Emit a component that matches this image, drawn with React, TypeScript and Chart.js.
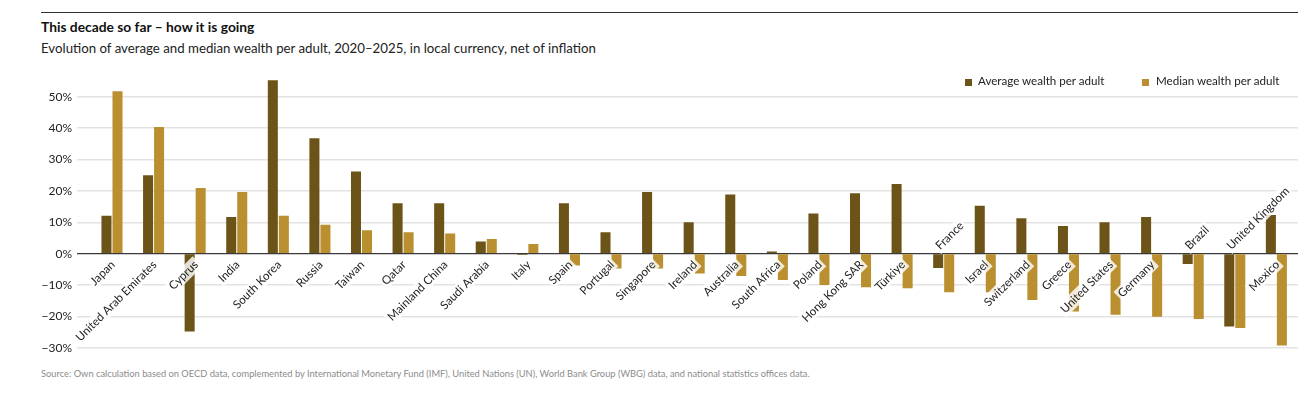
import React, { useEffect, useRef } from 'react';
import { Chart, registerables } from 'chart.js';

Chart.register(...registerables);

// ---------- data ----------
const countries = [
  'Japan', 'United Arab Emirates', 'Cyprus', 'India', 'South Korea', 'Russia', 'Taiwan', 'Qatar',
  'Mainland China', 'Saudi Arabia', 'Italy', 'Spain', 'Portugal', 'Singapore', 'Ireland', 'Australia',
  'South Africa', 'Poland', 'Hong Kong SAR', 'Türkiye', 'France', 'Israel', 'Switzerland', 'Greece',
  'United States', 'Germany', 'Brazil', 'United Kingdom', 'Mexico',
];
const averageWealth = [
  12.1, 25.0, -24.8, 11.7, 55.3, 36.8, 26.2, 16.1,
  16.1, 3.9, -0.4, 16.1, 6.8, 19.7, 10.0, 18.9,
  0.7, 12.8, 19.3, 22.2, -4.6, 15.3, 11.3, 8.8,
  10.0, 11.7, -3.3, -23.2, 12.3,
];
const medianWealth = [
  51.8, 40.4, 20.9, 19.7, 12.1, 9.2, 7.5, 6.8,
  6.4, 4.7, 3.1, -3.8, -4.7, -4.7, -6.3, -7.1,
  -8.4, -10.0, -10.7, -11.0, -12.3, -12.3, -14.8, -18.4,
  -19.5, -20.1, -20.8, -23.7, -29.3,
];
const yTickValues = [-30, -20, -10, 0, 10, 20, 30, 40, 50];
const seriesNames = ['Average wealth per adult', 'Median wealth per adult'];

const DARK = '#6c5317';
const GOLD = '#b98f30';
const FONT = 'Lato, "Open Sans", sans-serif';
const TEXT = '#222222';

const countryLabelPlugin = {
  id: 'countryLabels',
  afterDatasetsDraw(chart: any) {
    const { ctx, scales } = chart;
    const xs = scales.x;
    const ys = scales.y;
    const zero = ys.getPixelForValue(0);
    ctx.save();
    ctx.font = `11.6px ${FONT}`;
    countries.forEach((name, i) => {
      const cx = xs.getPixelForValue(i);
      const above = averageWealth[i] < 0 && medianWealth[i] < 0;
      const w = ctx.measureText(name).width;
      ctx.save();
      if (above) ctx.translate(cx - 6, zero - 6);
      else ctx.translate(cx + 1, zero + 9);
      ctx.rotate(-Math.PI / 4);
      const x0 = above ? 0 : -w;
      ctx.fillStyle = 'rgba(255,255,255,0.82)';
      ctx.fillRect(x0 - 2, -7, w + 4, 14);
      ctx.fillStyle = TEXT;
      ctx.textBaseline = 'middle';
      ctx.textAlign = 'left';
      ctx.fillText(name, x0, 0);
      ctx.restore();
    });
    ctx.restore();
  },
};

export default function App() {
  const canvasRef = useRef<HTMLCanvasElement | null>(null);

  useEffect(() => {
    const canvas = canvasRef.current;
    if (!canvas) return;
    const chart = new Chart(canvas, {
      type: 'bar',
      data: {
        datasets: [
          {
            label: seriesNames[0],
            data: averageWealth.map((v, i) => ({ x: i, y: v })),
            backgroundColor: DARK,
            categoryPercentage: 0.53,
            barPercentage: 0.91,
          },
          {
            label: seriesNames[1],
            data: medianWealth.map((v, i) => ({ x: i, y: v })),
            backgroundColor: GOLD,
            categoryPercentage: 0.53,
            barPercentage: 0.91,
          },
        ],
      } as any,
      options: {
        animation: false,
        responsive: false,
        maintainAspectRatio: false,
        layout: { padding: { top: 18, bottom: 12, right: 18, left: 0 } },
        plugins: { legend: { display: false }, tooltip: { enabled: false }, title: { display: false } },
        scales: {
          x: { type: 'linear', min: -0.8415, max: 28.52, display: false, offset: false },
          y: {
            min: -30,
            max: 56,
            afterBuildTicks: (s: any) => {
              s.ticks = yTickValues.map((v) => ({ value: v }));
            },
            afterFit: (s: any) => {
              s.width = 77;
            },
            border: { display: false },
            grid: {
              drawTicks: false,
              color: (c: any) => (c.tick && c.tick.value === 0 ? '#3a3a3a' : '#e3e3e3'),
              lineWidth: (c: any) => (c.tick && c.tick.value === 0 ? 1.2 : 1.6),
            },
            ticks: {
              padding: 5,
              color: TEXT,
              font: { family: FONT, size: 12 },
              callback: (v: any) => (v < 0 ? '\u2212' + Math.abs(v) + '%' : v + '%'),
            },
          },
        },
      } as any,
      plugins: [countryLabelPlugin],
    });
    return () => chart.destroy();
  }, []);

  const abs = (s: React.CSSProperties): React.CSSProperties => ({ position: 'absolute', margin: 0, ...s });

  return (
    <div style={{ position: 'absolute', left: 0, top: 0, width: 1316, height: 393, background: '#fff', overflow: 'hidden', fontFamily: FONT, color: TEXT }}>
      <div style={abs({ left: 41, top: 12, width: 1257, height: 0, borderTop: '1.2px solid #333' })} />
      <div style={abs({ left: 41, top: 19, fontSize: 13.8, fontWeight: 700, lineHeight: '16px', whiteSpace: 'nowrap', color: '#111' })}>
        This decade so far – how it is going
      </div>
      <div style={abs({ left: 41, top: 40, fontSize: 13.25, lineHeight: '16px', whiteSpace: 'nowrap' })}>
        Evolution of average and median wealth per adult, 2020–2025, in local currency, net of inflation
      </div>
      <canvas ref={canvasRef} width={1316} height={300} style={abs({ left: 0, top: 60, width: 1316, height: 300 })} />
      <div style={abs({ left: 965, top: 79, width: 7, height: 7, background: DARK })} />
      <div style={abs({ left: 978, top: 74, fontSize: 11.6, lineHeight: '14px', whiteSpace: 'nowrap' })}>{seriesNames[0]}</div>
      <div style={abs({ left: 1142, top: 79, width: 7, height: 7, background: GOLD })} />
      <div style={abs({ left: 1156, top: 74, fontSize: 11.6, lineHeight: '14px', whiteSpace: 'nowrap' })}>{seriesNames[1]}</div>
      <div style={abs({ left: 41, top: 367.5, fontSize: 9.3, lineHeight: '12px', whiteSpace: 'nowrap', color: '#8c8c8c' })}>
        Source: Own calculation based on OECD data, complemented by International Monetary Fund (IMF), United Nations (UN), World Bank Group (WBG) data, and national statistics offices data.
      </div>
    </div>
  );
}
